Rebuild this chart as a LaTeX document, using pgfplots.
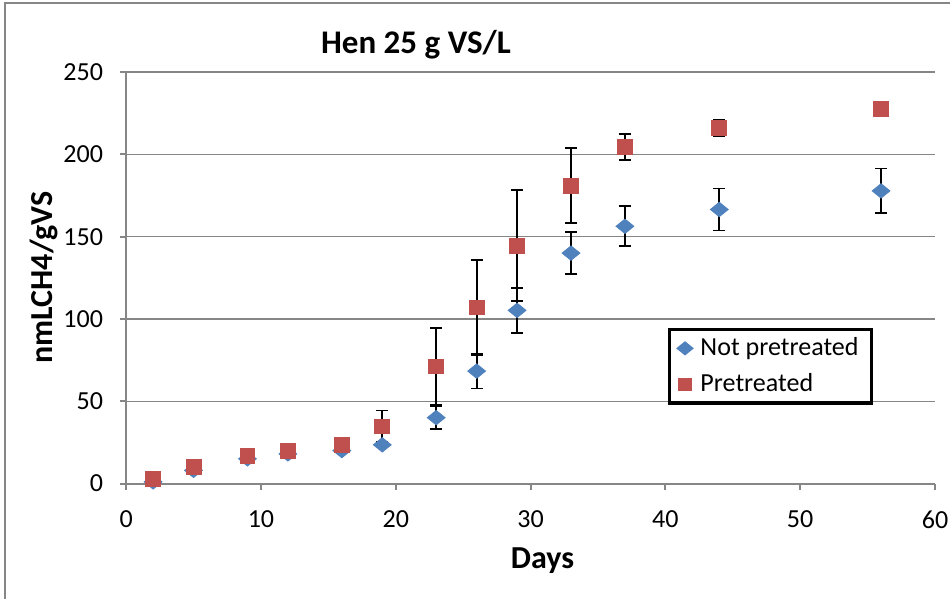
\documentclass[border=0pt]{standalone}
\usepackage{fontspec}
\setmainfont{Carlito}
\usepackage{pgfplots}
\pgfplotsset{compat=1.18}
\definecolor{npblue}{HTML}{4F81BD}
\definecolor{ptred}{HTML}{C0504D}
\definecolor{axgray}{HTML}{868686}
\begin{document}
\begin{tikzpicture}
\begin{axis}[
   scale only axis,
   width=404pt, height=205.5pt,
   xmin=0, xmax=60, ymin=0, ymax=250,
   xtick={0,10,...,60}, ytick={0,50,...,250},
   tick align=outside, tick pos=left,
   major tick length=3pt,
   every tick/.style={axgray, line width=1pt},
   axis line style={axgray, line width=1pt},
   axis x line*=bottom, axis y line*=left,
   ymajorgrids, grid style={axgray, line width=0.6pt},
   tick label style={font=\fontsize{13}{15}\selectfont},
   xticklabel style={yshift=-7pt},
   yticklabel style={xshift=-5pt},
   /pgf/number format/assume math mode=true,
   xlabel={\textbf{Days}}, xlabel style={font=\fontsize{16}{18}\selectfont, yshift=-3pt, xshift=6pt},
   ylabel={\textbf{nmLCH4/gVS}}, ylabel style={font=\fontsize{16}{18}\selectfont, yshift=-4pt},
   legend style={at={(axis cs:40.2,94.3)}, anchor=north west, draw=black, line width=1.5pt,
      font=\fontsize{13}{15}\selectfont, row sep=3.5pt, inner xsep=4.5pt, inner ysep=2pt},
   legend cell align=left,
   clip=false,
]
\addplot[only marks, mark=diamond*, mark size=3.6pt, mark options={xscale=1.65}, color=npblue,
   legend image post style={mark size=2.6pt},
   error bars/.cd, y dir=both, y explicit,
   error bar style={black, line width=0.9pt},
   error mark options={black, rotate=90, mark size=3pt, line width=0.9pt, xscale=1}]
   coordinates {
   (2,1) +- (0,0)
   (5,8) +- (0,0)
   (9,15) +- (0,0)
   (12,18) +- (0,0)
   (16,20) +- (0,0)
   (19,23.5) +- (0,0)
   (23,40) +- (0,7)
   (26,68.3) +- (0,10.6)
   (29,105.2) +- (0,13.8)
   (33,140) +- (0,12.7)
   (37,156.3) +- (0,12.2)
   (44,166.5) +- (0,12.8)
   (56,177.8) +- (0,13.6)
   };
\addlegendentry{\hspace{2.5pt}Not pretreated}
\addplot[only marks, mark=square*, mark size=3.7pt, color=ptred,
   legend image post style={mark size=2.7pt},
   error bars/.cd, y dir=both, y explicit,
   error bar style={black, line width=0.9pt},
   error mark options={black, rotate=90, mark size=3pt, line width=0.9pt}]
   coordinates {
   (2,3) +- (0,0)
   (5,10) +- (0,0)
   (9,17) +- (0,0)
   (12,20) +- (0,0)
   (16,23.5) +- (0,0)
   (19,34.7) +- (0,9.7)
   (23,71.2) +- (0,23.5)
   (26,107) +- (0,29)
   (29,144.6) +- (0,33.6)
   (33,181) +- (0,22.7)
   (37,204.4) +- (0,8)
   (44,216) +- (0,5)
   (56,227.5) +- (0,0)
   };
\addlegendentry{\hspace{2.5pt}Pretreated}
\node[font=\fontsize{16.5}{18}\selectfont\bfseries] at (axis cs:21.5,250) [yshift=13.5pt] {Hen 25 g VS/L};
\end{axis}
\draw[axgray, line width=1pt] ([xshift=-60.5pt]current axis.south west |- 0,-57.5pt) -- ([xshift=-60.5pt,yshift=34.5pt]current axis.north west) -- ([xshift=7.5pt,yshift=34.5pt]current axis.north east);
\pgfresetboundingbox
\useasboundingbox ([xshift=-63pt,yshift=-57.5pt]current axis.south west) rectangle ([xshift=7.5pt,yshift=36pt]current axis.north east);
\end{tikzpicture}
\end{document}
